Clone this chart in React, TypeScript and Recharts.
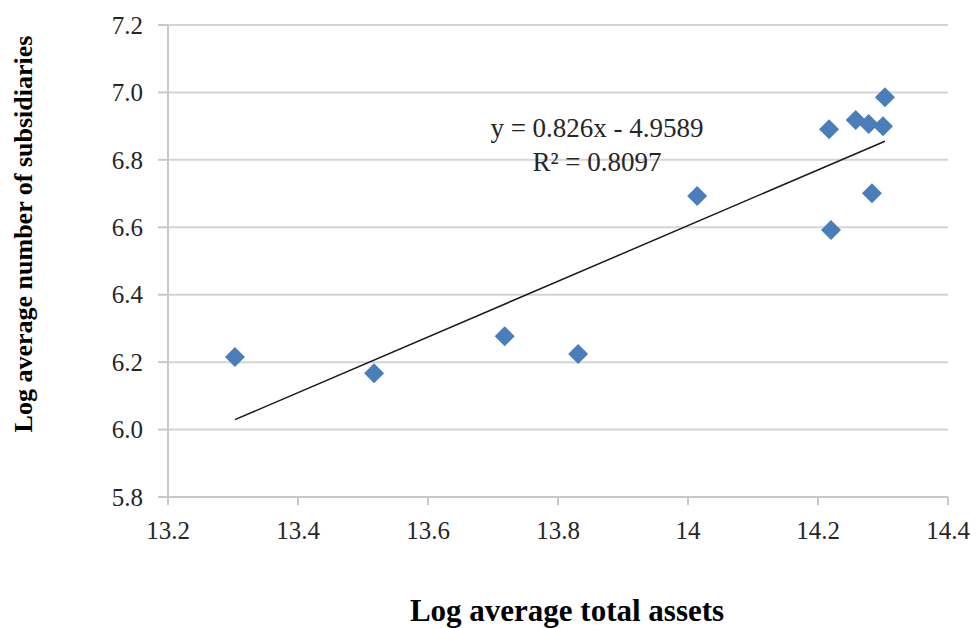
import { ScatterChart, Scatter, XAxis, YAxis, CartesianGrid } from 'recharts';

// points
const assets = [13.303, 13.517, 13.718, 13.831, 14.014, 14.217, 14.22, 14.258, 14.278, 14.3, 14.303, 14.283];
const subsidiaries = [6.215, 6.167, 6.277, 6.224, 6.693, 6.891, 6.592, 6.918, 6.906, 6.9, 6.986, 6.701];

const xTicks = [13.2, 13.4, 13.6, 13.8, 14, 14.2, 14.4];
const yTicks = [5.8, 6.0, 6.2, 6.4, 6.6, 6.8, 7.0, 7.2];

const slope = 0.826;
const intercept = -4.9589;
const rSquared = 0.8097;

const points = assets.map((x, i) => ({ x, y: subsidiaries[i] }));
const xMin = Math.min(...assets);
const xMax = Math.max(...assets);
const trend = [xMin, xMax].map((x) => ({ x, y: slope * x + intercept }));

const serif = 'Liberation Serif';
const gridColor = '#d4d4d4';

const Diamond = (props: any) => {
  const { cx, cy } = props;
  const r = 10;
  return (
    <polygon
      points={`${cx},${cy - r} ${cx + r},${cy} ${cx},${cy + r} ${cx - r},${cy}`}
      fill="#4a7ebb"
    />
  );
};

const XTick = ({ x, y, payload }: any) => (
  <text x={x} y={y} dy="0.71em" textAnchor="middle" fontFamily={serif} fontSize={25} fill="#262626">
    {String(payload.value)}
  </text>
);

const YTick = ({ x, y, payload }: any) => (
  <text x={x} y={y} dy="0.35em" textAnchor="end" fontFamily={serif} fontSize={25} fill="#262626">
    {Number(payload.value).toFixed(1)}
  </text>
);

export default function App() {
  return (
    <div style={{ position: 'absolute', left: 0, top: 0, width: 978, height: 628, background: '#fff' }}>
      <ScatterChart width={978} height={628} margin={{ top: 25, right: 30, bottom: 0, left: 0 }}>
        <CartesianGrid vertical={false} stroke={gridColor} strokeWidth={2} />
        <XAxis
          type="number"
          dataKey="x"
          domain={[13.2, 14.4]}
          ticks={xTicks}
          height={131}
          stroke="#c8c8c8"
          strokeWidth={2}
          tickSize={8}
          tickMargin={16}
          tick={XTick}
        />
        <YAxis
          type="number"
          dataKey="y"
          domain={[5.8, 7.2]}
          ticks={yTicks}
          width={168}
          stroke="#c8c8c8"
          strokeWidth={2}
          tickSize={10}
          tickMargin={15}
          tick={YTick}
        />
        <Scatter data={points} shape={<Diamond />} isAnimationActive={false} />
        <Scatter
          data={trend}
          line={{ stroke: '#1a1a1a', strokeWidth: 1.5 }}
          shape={() => null}
          isAnimationActive={false}
        />
      </ScatterChart>

      <svg width={978} height={628} style={{ position: 'absolute', left: 0, top: 0, pointerEvents: 'none' }}>
        <text x={597} y={137} textAnchor="middle" fontFamily={serif} fontSize={27} fill="#262626">
          {`y = ${slope}x - ${Math.abs(intercept)}`}
        </text>
        <text x={597} y={171} textAnchor="middle" fontFamily={serif} fontSize={27} fill="#262626">
          {`R² = ${rSquared}`}
        </text>
        <text x={567} y={621} textAnchor="middle" fontFamily={serif} fontSize={31} fontWeight="bold" fill="#000">
          Log average total assets
        </text>
        <text
          transform="translate(32, 234) rotate(-90)"
          textAnchor="middle"
          fontFamily={serif}
          fontSize={26}
          fontWeight="bold"
          fill="#000"
        >
          Log average number of subsidiaries
        </text>
      </svg>
    </div>
  );
}
